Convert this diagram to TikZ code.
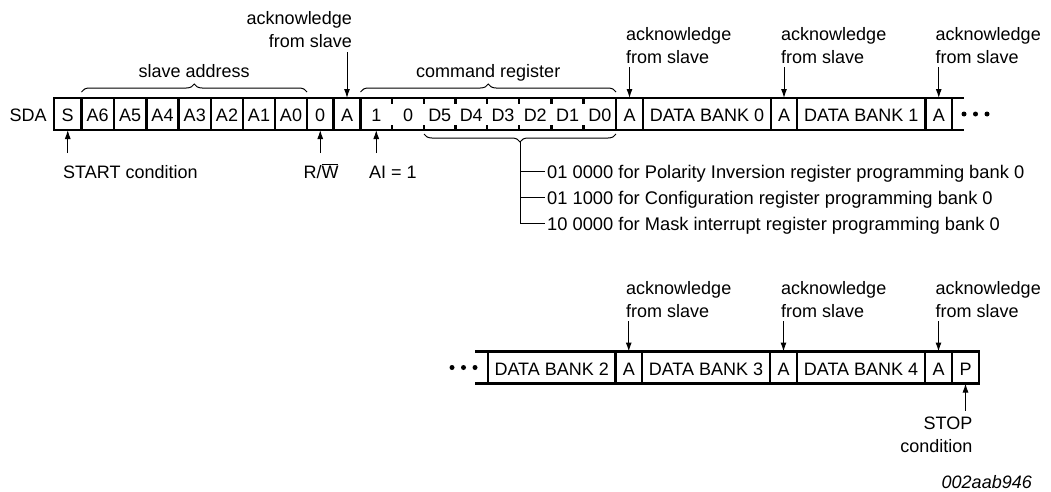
\documentclass[tikz,border=0pt]{standalone}
\usepackage{fontspec}
\setmainfont{Liberation Sans}
\usetikzlibrary{decorations.pathreplacing,calc,arrows.meta}
\tikzset{
 cellbox/.style={draw, line width=2.4pt, rectangle, inner sep=0pt, outer sep=0pt, minimum height=32pt, text height=15pt, text depth=0pt},
 cmdbit/.style={rectangle, inner sep=0pt, outer sep=0pt, minimum height=32pt, text height=15pt, text depth=0pt},
 frame/.style={line width=2.4pt},
 tick/.style={line width=2.2pt},
 arr/.style={line width=1pt, -{Latex[length=9pt,width=6pt]}},
 brc/.style={line width=1pt, decorate, decoration={brace, amplitude=8pt}},
 brcm/.style={line width=1pt, decorate, decoration={brace, amplitude=8pt, mirror}},
 thinline/.style={line width=1pt},
 ackL/.style={align=left, anchor=south west, inner sep=0pt},
 ackR/.style={align=right, anchor=south east, inner sep=0pt},
 lbl/.style={anchor=base, inner sep=0pt},
 lblw/.style={anchor=base west, inner sep=0pt},
 listtxt/.style={anchor=west, inner sep=0pt, text height=13pt, text depth=0pt, font=\fontsize{18.3}{23}\selectfont},
 dot/.style={circle, fill, inner sep=0pt, minimum size=5pt},
}
\begin{document}
\begin{tikzpicture}[x=1pt, y=-1pt, font=\fontsize{18}{23}\selectfont]
\useasboundingbox (0,0) rectangle (1051,491);

% ---------- top row ----------
\node[lblw] (sda) at (9.5,121.5) {SDA};
\foreach \nm/\l/\r/\txt in {S/54/81.5/S, A6/81.5/114/A6, A5/114/146.5/A5, A4/146.5/178.5/A4, A3/178.5/211/A3, A2/211/243/A2, A1/243/275/A1, A0/275/307/A0, rw/307/333.5/0, ackA/333.5/360.5/A, ackB/616/643/A, db0/643/771/DATA BANK 0, ackC/771/797/A, db1/797/925.5/DATA BANK 1, ackD/925.5/952/A}
  \node[cellbox, minimum width={\r-\l}] (\nm) at ({(\l+\r)/2},114) {\txt};
\foreach \nm/\l/\r/\txt in {c1/360.5/392/1, c2/392/424/0, c3/424/455.5/D5, c4/455.5/487/D4, c5/487/519/D3, c6/519/551.5/D2, c7/551.5/583.5/D1, c8/583.5/616/D0}
  \node[cmdbit, minimum width={\r-\l}] (\nm) at ({(\l+\r)/2},114) {\txt};
\draw[frame] (c1.north west) -- (c8.north east);
\draw[frame] (c1.south west) -- (c8.south east);
\foreach \i in {1,...,7} {
  \draw[tick] (c\i.north east) -- ++(0,5.5);
  \draw[tick] (c\i.south east) -- ++(0,-5.5);
}
\coordinate (tend) at (964,114);
\draw[frame] (ackD.north east) -- (ackD.north east -| tend);
\draw[frame] (ackD.south east) -- (ackD.south east -| tend);
\foreach \i/\x in {1/964,2/975.5,3/987} \node[dot] (td\i) at (\x,114) {};

% braces top row
\draw[brc] ($(A6.north west)+(0,-6)$) -- ($(A0.north east)+(0,-6)$);
\node[lbl] (lsa) at ($(A6.north west)!0.5!(A0.north east)+(0,-21)$) {slave address};
\draw[brc] ($(c1.north west)+(0,-6)$) -- ($(c8.north east)+(0,-6)$);
\node[lbl] (lcr) at ($(c1.north west)!0.5!(c8.north east)+(0,-21)$) {command register};
\draw[brcm] ($(c3.south west)+(0,4)$) -- ($(c8.south east)+(0,4)$);
\coordinate (bt) at ($(c3.south west)!0.5!(c8.south east)+(0,12)$);

% list
\node[listtxt] (t1) at (547,171.5) {01 0000 for Polarity Inversion register programming bank 0};
\node[listtxt] (t2) at (547,197.5) {01 1000 for Configuration register programming bank 0};
\node[listtxt] (t3) at (547,223.5) {10 0000 for Mask interrupt register programming bank 0};
\draw[thinline] (bt) |- ($(t3.west)+(-2,0)$);
\draw[thinline] (bt |- t1.west) -- ($(t1.west)+(-2,0)$);
\draw[thinline] (bt |- t2.west) -- ($(t2.west)+(-2,0)$);

% acknowledge labels top
\node[ackR] (lab1) at (352,48) {acknowledge\\from slave};
\draw[arr] ($(ackA.north |- lab1.south)+(0,4)$) -- (ackA.north);
\node[ackL] (lab2) at (626,64) {acknowledge\\from slave};
\draw[arr] ($(ackB.north |- lab2.south)+(0,3)$) -- (ackB.north);
\node[ackL] (lab3) at (781,64) {acknowledge\\from slave};
\draw[arr] ($(ackC.north |- lab3.south)+(0,3)$) -- (ackC.north);
\node[ackL] (lab4) at (935.5,64) {acknowledge\\from slave};
\draw[arr] ($(ackD.north |- lab4.south)+(0,3)$) -- (ackD.north);

% bottom labels of top row
\node[lblw] (lstart) at (63,178) {START condition};
\draw[arr] ($(S.south)+(0,23)$) -- (S.south);
\node[lbl] (lrw) at (321,178) {R/$\overline{\hbox{W}}$};
\draw[arr] ($(rw.south)+(0,23)$) -- (rw.south);
\node[lblw] (lai) at (369,178) {AI = 1};
\draw[arr] ($(c1.south)+(0,23)$) -- (c1.south);

% ---------- bottom row ----------
\foreach \nm/\l/\r/\txt in {db2/488/615.5/DATA BANK 2, ackE/615.5/642/A, db3/642/770/DATA BANK 3, ackF/770/797/A, db4/797/925/DATA BANK 4, ackG/925/952/A, P/952/979/P}
  \node[cellbox, minimum width={\r-\l}] (\nm) at ({(\l+\r)/2},367.5) {\txt};
\coordinate (bstart) at (475,367.5);
\draw[frame] (db2.north west) -- (db2.north west -| bstart);
\draw[frame] (db2.south west) -- (db2.south west -| bstart);
\foreach \i/\x in {1/452,2/463.5,3/475} \node[dot] (bd\i) at (\x,367.5) {};

\node[ackL] (lab5) at (626,318) {acknowledge\\from slave};
\draw[arr] ($(ackE.north |- lab5.south)+(0,3)$) -- (ackE.north);
\node[ackL] (lab6) at (781,318) {acknowledge\\from slave};
\draw[arr] ($(ackF.north |- lab6.south)+(0,3)$) -- (ackF.north);
\node[ackL] (lab7) at (935.5,318) {acknowledge\\from slave};
\draw[arr] ($(ackG.north |- lab7.south)+(0,3)$) -- (ackG.north);

\node[ackR] (lstop) at (972.5,453) {STOP\\condition};
\draw[arr] ($(P.south)+(0,27)$) -- (P.south);

\node[anchor=base east, inner sep=0pt, font=\fontsize{18}{23}\selectfont\itshape] (code) at (1032,488) {002aab946};
\end{tikzpicture}
\end{document}
